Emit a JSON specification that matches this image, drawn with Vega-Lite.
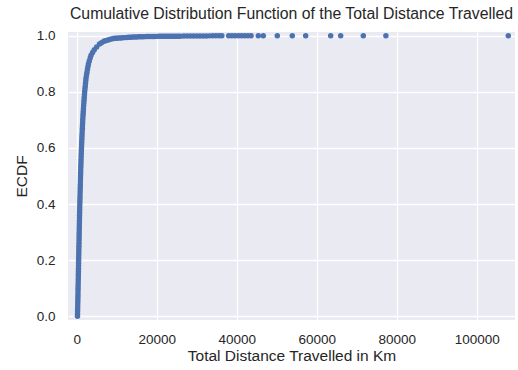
{
  "$schema": "https://vega.github.io/schema/vega-lite/v6.json",
  "width": 447,
  "height": 288,
  "autosize": {"type": "none"},
  "padding": {"left": 68, "top": 32, "right": 3, "bottom": 50},
  "background": "white",
  "title": {
    "text": "Cumulative Distribution Function of the Total Distance Travelled",
    "font": "Liberation Sans",
    "fontSize": 15.8,
    "fontWeight": "normal",
    "color": "#262626",
    "offset": 6
  },
  "data": {
    "values": [
      {"x": 200, "y": 0.00}, {"x": 215, "y": 0.01}, {"x": 230, "y": 0.02}, {"x": 250, "y": 0.03}, {"x": 265, "y": 0.04},
      {"x": 280, "y": 0.05}, {"x": 295, "y": 0.06}, {"x": 310, "y": 0.07}, {"x": 325, "y": 0.08}, {"x": 335, "y": 0.09},
      {"x": 350, "y": 0.10}, {"x": 365, "y": 0.11}, {"x": 380, "y": 0.12}, {"x": 395, "y": 0.13}, {"x": 405, "y": 0.14},
      {"x": 420, "y": 0.15}, {"x": 435, "y": 0.16}, {"x": 450, "y": 0.17}, {"x": 465, "y": 0.18}, {"x": 475, "y": 0.19},
      {"x": 490, "y": 0.20}, {"x": 505, "y": 0.21}, {"x": 520, "y": 0.22}, {"x": 535, "y": 0.23}, {"x": 545, "y": 0.24},
      {"x": 560, "y": 0.25}, {"x": 575, "y": 0.26}, {"x": 590, "y": 0.27}, {"x": 605, "y": 0.28}, {"x": 615, "y": 0.29},
      {"x": 630, "y": 0.30}, {"x": 645, "y": 0.31}, {"x": 660, "y": 0.32}, {"x": 675, "y": 0.33}, {"x": 685, "y": 0.34},
      {"x": 700, "y": 0.35}, {"x": 715, "y": 0.36}, {"x": 730, "y": 0.37}, {"x": 750, "y": 0.38}, {"x": 765, "y": 0.39},
      {"x": 780, "y": 0.40}, {"x": 800, "y": 0.41}, {"x": 815, "y": 0.42}, {"x": 835, "y": 0.43}, {"x": 850, "y": 0.44},
      {"x": 870, "y": 0.45}, {"x": 890, "y": 0.46}, {"x": 905, "y": 0.47}, {"x": 925, "y": 0.48}, {"x": 940, "y": 0.49},
      {"x": 960, "y": 0.50}, {"x": 980, "y": 0.51}, {"x": 1000, "y": 0.52}, {"x": 1025, "y": 0.53}, {"x": 1045, "y": 0.54},
      {"x": 1070, "y": 0.55}, {"x": 1095, "y": 0.56}, {"x": 1120, "y": 0.57}, {"x": 1145, "y": 0.58}, {"x": 1170, "y": 0.59},
      {"x": 1200, "y": 0.60}, {"x": 1230, "y": 0.61}, {"x": 1260, "y": 0.62}, {"x": 1290, "y": 0.63}, {"x": 1320, "y": 0.64},
      {"x": 1350, "y": 0.65}, {"x": 1385, "y": 0.66}, {"x": 1420, "y": 0.67}, {"x": 1450, "y": 0.68}, {"x": 1485, "y": 0.69},
      {"x": 1520, "y": 0.70}, {"x": 1560, "y": 0.71}, {"x": 1605, "y": 0.72}, {"x": 1650, "y": 0.73}, {"x": 1695, "y": 0.74},
      {"x": 1740, "y": 0.75}, {"x": 1790, "y": 0.76}, {"x": 1840, "y": 0.77}, {"x": 1895, "y": 0.78}, {"x": 1945, "y": 0.79},
      {"x": 2000, "y": 0.80}, {"x": 2070, "y": 0.81}, {"x": 2140, "y": 0.82}, {"x": 2210, "y": 0.83}, {"x": 2280, "y": 0.84},
      {"x": 2350, "y": 0.85}, {"x": 2460, "y": 0.86}, {"x": 2580, "y": 0.87}, {"x": 2700, "y": 0.88}, {"x": 2820, "y": 0.89},
      {"x": 2950, "y": 0.90}, {"x": 3150, "y": 0.91}, {"x": 3380, "y": 0.92}, {"x": 3600, "y": 0.93}, {"x": 3980, "y": 0.94},
      {"x": 4400, "y": 0.95}, {"x": 5000, "y": 0.96}, {"x": 5700, "y": 0.97}, {"x": 6200, "y": 0.975}, {"x": 6800, "y": 0.98},
      {"x": 7200, "y": 0.982}, {"x": 7700, "y": 0.984}, {"x": 8200, "y": 0.986}, {"x": 8700, "y": 0.988}, {"x": 9200, "y": 0.990},
      {"x": 9600, "y": 0.9905}, {"x": 10000, "y": 0.991}, {"x": 10500, "y": 0.9915}, {"x": 11000, "y": 0.992}, {"x": 11500, "y": 0.9925},
      {"x": 12000, "y": 0.993}, {"x": 12500, "y": 0.9935}, {"x": 13000, "y": 0.994}, {"x": 13500, "y": 0.9945}, {"x": 14000, "y": 0.995},
      {"x": 14500, "y": 0.9953}, {"x": 15000, "y": 0.9955}, {"x": 15500, "y": 0.9958}, {"x": 16000, "y": 0.996}, {"x": 16500, "y": 0.9962},
      {"x": 17000, "y": 0.9965}, {"x": 17500, "y": 0.9967}, {"x": 18000, "y": 0.997}, {"x": 18500, "y": 0.9971}, {"x": 19000, "y": 0.9972},
      {"x": 19500, "y": 0.9973}, {"x": 20000, "y": 0.9974}, {"x": 20500, "y": 0.9975}, {"x": 21000, "y": 0.9976}, {"x": 21500, "y": 0.9977},
      {"x": 22000, "y": 0.9978}, {"x": 22500, "y": 0.9979}, {"x": 23000, "y": 0.998}, {"x": 23500, "y": 0.99805}, {"x": 24000, "y": 0.9981},
      {"x": 24500, "y": 0.99815}, {"x": 25000, "y": 0.9982}, {"x": 25500, "y": 0.99825}, {"x": 26000, "y": 0.9983}, {"x": 26800, "y": 0.9984},
      {"x": 27600, "y": 0.9985}, {"x": 28400, "y": 0.9986}, {"x": 29200, "y": 0.9987}, {"x": 30000, "y": 0.9988}, {"x": 30800, "y": 0.9989},
      {"x": 31600, "y": 0.999}, {"x": 32400, "y": 0.9991}, {"x": 33200, "y": 0.9992}, {"x": 34000, "y": 0.9993}, {"x": 34800, "y": 0.9994},
      {"x": 35600, "y": 0.9995}, {"x": 36300, "y": 0.9996}, {"x": 38000, "y": 0.99965}, {"x": 38800, "y": 0.9997}, {"x": 39600, "y": 0.99975},
      {"x": 40400, "y": 0.9998}, {"x": 41200, "y": 0.99983}, {"x": 42000, "y": 0.99985}, {"x": 42800, "y": 0.99988}, {"x": 43600, "y": 0.9999},
      {"x": 45400, "y": 0.99992}, {"x": 46650, "y": 0.99993}, {"x": 50150, "y": 0.99994}, {"x": 53900, "y": 0.99995},
      {"x": 57250, "y": 0.99996}, {"x": 63500, "y": 0.99997}, {"x": 66000, "y": 0.99998}, {"x": 71650, "y": 0.99998},
      {"x": 77300, "y": 0.99999}, {"x": 107900, "y": 1.0}
    ]
  },
  "mark": {"type": "circle", "size": 30, "color": "#4C72B0", "opacity": 1},
  "encoding": {
    "x": {
      "field": "x",
      "type": "quantitative",
      "title": "Total Distance Travelled in Km",
      "scale": {"domain": [-2170, 109575], "nice": false, "zero": false},
      "axis": {"values": [0, 20000, 40000, 60000, 80000, 100000], "format": "d", "labelPadding": 12, "titlePadding": 3}
    },
    "y": {
      "field": "y",
      "type": "quantitative",
      "title": "ECDF",
      "scale": {"domain": [-0.013, 1.013], "nice": false, "zero": false},
      "axis": {"values": [0, 0.2, 0.4, 0.6, 0.8, 1.0], "format": ".1f", "labelPadding": 13, "titlePadding": 7}
    }
  },
  "config": {
    "view": {"fill": "#EAEAF2", "stroke": null},
    "axis": {
      "domain": false,
      "ticks": false,
      "tickSize": 0,
      "grid": true,
      "gridColor": "#FFFFFF",
      "gridWidth": 1.3,
      "gridOpacity": 1,
      "labelFont": "Liberation Sans",
      "labelFontSize": 13.5,
      "labelColor": "#262626",
      "titleFont": "Liberation Sans",
      "titleFontSize": 15.5,
      "titleFontWeight": "normal",
      "titleColor": "#262626"
    }
  }
}
